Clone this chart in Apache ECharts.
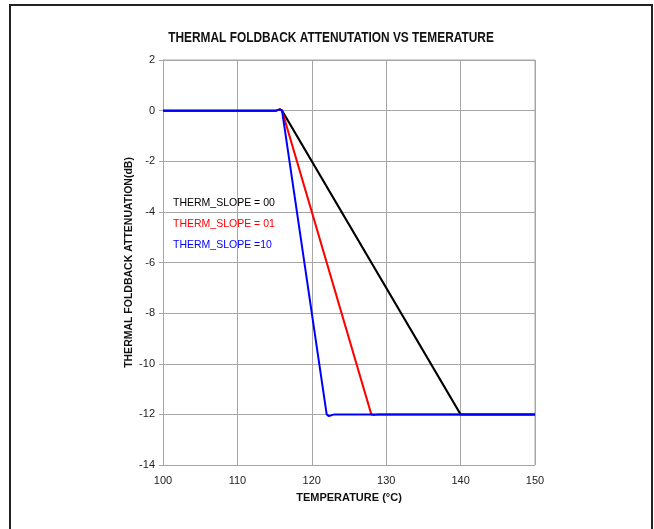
<!DOCTYPE html>
<html>
<head>
<meta charset="utf-8">
<script src="https://cdn.jsdelivr.net/npm/echarts@6/dist/echarts.min.js"></script>
<style>
html,body{margin:0;padding:0;background:#fff;}
#c{width:654px;height:529px;}
</style>
</head>
<body>
<div id="c"></div>
<script>
const chartTitle = 'THERMAL FOLDBACK ATTENUTATION VS TEMERATURE';
const seriesNames = ['THERM_SLOPE = 00', 'THERM_SLOPE = 01', 'THERM_SLOPE =10'];
const seriesColors = ['#000000', '#ff0000', '#0000ff'];
const slope00X = [100, 115.2, 115.7, 116.0, 140.0, 150];
const slope00Y = [0, 0, 0.05, 0, -12, -12];
const slope01X = [100, 115.2, 115.7, 116.0, 128.0, 128.3, 129.0, 150];
const slope01Y = [0, 0, 0.05, 0, -12, -12.03, -12, -12];
const slope10X = [100, 115.2, 115.7, 116.0, 122.0, 122.3, 123.0, 150];
const slope10Y = [0, 0, 0.05, 0, -12, -12.07, -12, -12];
const xTicks = [100, 110, 120, 130, 140, 150];
const yTicks = [2, 0, -2, -4, -6, -8, -10, -12, -14];

const pairs = (xs, ys) => xs.map((x, i) => [x, ys[i]]);
const allData = [pairs(slope00X, slope00Y), pairs(slope01X, slope01Y), pairs(slope10X, slope10Y)];

const chart = echarts.init(document.getElementById('c'), null, {renderer: 'canvas'});
const axisFont = {fontFamily: 'Liberation Sans, Arial, sans-serif', fontSize: 11, color: '#222'};
const gridLine = {lineStyle: {color: '#a6a6a6', width: 1}};
chart.setOption({
  animation: false,
  backgroundColor: '#fff',
  legend: {
    orient: 'vertical', left: 163, top: 193, itemGap: 10,
    itemWidth: 0, itemHeight: 0, selectedMode: false,
    data: seriesNames.map((n, i) => ({name: n, icon: 'rect', textStyle: {color: seriesColors[i], fontSize: 10.5, fontFamily: 'Liberation Sans, Arial, sans-serif'}}))
  },
  grid: {left: 163, right: 119, top: 60, bottom: 64, show: false},
  xAxis: {
    type: 'value', min: xTicks[0], max: xTicks[xTicks.length - 1], interval: 10,
    name: 'TEMPERATURE (\u00B0C)', nameLocation: 'middle', nameGap: 27,
    nameTextStyle: {fontFamily: 'Liberation Sans, Arial, sans-serif', fontSize: 11, fontWeight: 'bold', color: '#111'},
    axisLine: {show: true, lineStyle: {color: '#a6a6a6'}},
    axisTick: {show: true, length: 4, lineStyle: {color: '#a6a6a6'}},
    axisLabel: Object.assign({margin: 10}, axisFont),
    splitLine: Object.assign({show: true}, gridLine)
  },
  yAxis: {
    type: 'value', min: yTicks[yTicks.length - 1], max: yTicks[0], interval: 2,
    name: 'THERMAL FOLDBACK ATTENUATION(dB)', nameLocation: 'middle', nameGap: 28, nameRotate: 90,
    nameMoveOverlap: false,
    nameTextStyle: {fontFamily: 'Liberation Sans, Arial, sans-serif', fontSize: 10.5, fontWeight: 'bold', color: '#111'},
    axisLine: {show: true, lineStyle: {color: '#a6a6a6'}},
    axisTick: {show: true, length: 4, lineStyle: {color: '#a6a6a6'}},
    axisLabel: Object.assign({margin: 8}, axisFont),
    splitLine: Object.assign({show: true}, gridLine)
  },
  graphic: [
    {type: 'rect', shape: {x: 10, y: 5, width: 642, height: 540}, style: {fill: 'none', stroke: '#222', lineWidth: 2}, silent: true},
    {type: 'line', shape: {x1: 163, y1: 60, x2: 535, y2: 60}, style: {stroke: '#a6a6a6', lineWidth: 1}, silent: true},
    {type: 'line', shape: {x1: 535, y1: 60, x2: 535, y2: 465}, style: {stroke: '#a6a6a6', lineWidth: 1}, silent: true},
    {type: 'text', x: 331, y: 38, scaleX: 0.85, silent: true,
     style: {text: chartTitle, textAlign: 'center', textVerticalAlign: 'middle', fill: '#111',
             font: 'bold 14px "Liberation Sans", Arial, sans-serif'}}
  ],
  series: seriesNames.map((n, i) => ({
    name: n, type: 'line', data: allData[i], showSymbol: false, symbol: 'none',
    smooth: false, lineStyle: {color: seriesColors[i], width: 2}, itemStyle: {color: seriesColors[i]}, z: 3 + i
  }))
});
</script>
</body>
</html>
